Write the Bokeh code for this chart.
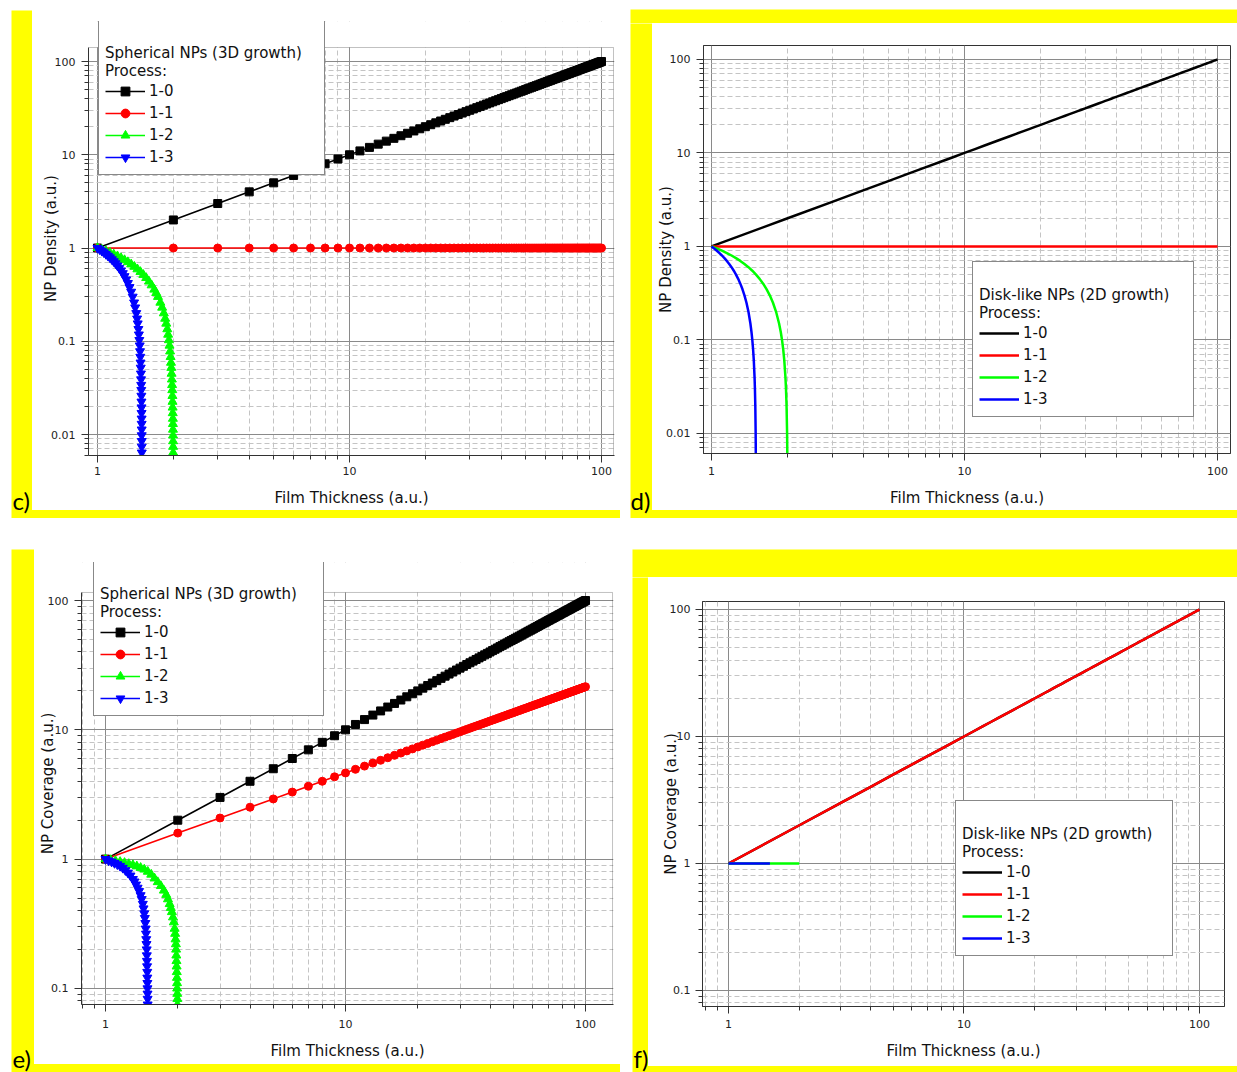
from bokeh.plotting import figure
from bokeh.layouts import row, column
from bokeh.models import (Spacer, Range1d, FixedTicker, CustomJSTickFormatter,
                          Legend, LegendItem, Label, BoxAnnotation)
from bokeh.embed import file_html
from bokeh.resources import INLINE

# ------------------------------------------------------------------ data
series_labels = ["1-0", "1-1", "1-2", "1-3"]
series_colors = ["#000000", "#FF0000", "#00FF00", "#0000FF"]

thickness = [1, 2, 3, 4, 5, 6, 7, 8, 9, 10,
             11, 12, 13, 14, 15, 16, 17, 18, 19, 20,
             21, 22, 23, 24, 25, 26, 27, 28, 29, 30,
             31, 32, 33, 34, 35, 36, 37, 38, 39, 40,
             41, 42, 43, 44, 45, 46, 47, 48, 49, 50,
             51, 52, 53, 54, 55, 56, 57, 58, 59, 60,
             61, 62, 63, 64, 65, 66, 67, 68, 69, 70,
             71, 72, 73, 74, 75, 76, 77, 78, 79, 80,
             81, 82, 83, 84, 85, 86, 87, 88, 89, 90,
             91, 92, 93, 94, 95, 96, 97, 98, 99, 100]

# process 1-0 : density / coverage grows linearly with thickness
value_10 = [1, 2, 3, 4, 5, 6, 7, 8, 9, 10,
            11, 12, 13, 14, 15, 16, 17, 18, 19, 20,
            21, 22, 23, 24, 25, 26, 27, 28, 29, 30,
            31, 32, 33, 34, 35, 36, 37, 38, 39, 40,
            41, 42, 43, 44, 45, 46, 47, 48, 49, 50,
            51, 52, 53, 54, 55, 56, 57, 58, 59, 60,
            61, 62, 63, 64, 65, 66, 67, 68, 69, 70,
            71, 72, 73, 74, 75, 76, 77, 78, 79, 80,
            81, 82, 83, 84, 85, 86, 87, 88, 89, 90,
            91, 92, 93, 94, 95, 96, 97, 98, 99, 100]

# process 1-1 density : constant
density_11 = [1, 1, 1, 1, 1, 1, 1, 1, 1, 1,
              1, 1, 1, 1, 1, 1, 1, 1, 1, 1,
              1, 1, 1, 1, 1, 1, 1, 1, 1, 1,
              1, 1, 1, 1, 1, 1, 1, 1, 1, 1,
              1, 1, 1, 1, 1, 1, 1, 1, 1, 1,
              1, 1, 1, 1, 1, 1, 1, 1, 1, 1,
              1, 1, 1, 1, 1, 1, 1, 1, 1, 1,
              1, 1, 1, 1, 1, 1, 1, 1, 1, 1,
              1, 1, 1, 1, 1, 1, 1, 1, 1, 1,
              1, 1, 1, 1, 1, 1, 1, 1, 1, 1]

# process 1-1 coverage of spherical NPs (panel e)
coverage_sph_11 = [1.00, 1.59, 2.08, 2.52, 2.92, 3.30, 3.66, 4.00, 4.33, 4.64,
                   4.95, 5.24, 5.53, 5.81, 6.08, 6.35, 6.61, 6.87, 7.12, 7.37,
                   7.61, 7.85, 8.09, 8.32, 8.55, 8.78, 9.00, 9.22, 9.44, 9.65,
                   9.87, 10.08, 10.29, 10.50, 10.70, 10.90, 11.10, 11.30, 11.50, 11.70,
                   11.89, 12.08, 12.27, 12.46, 12.65, 12.84, 13.02, 13.21, 13.39, 13.57,
                   13.75, 13.93, 14.11, 14.29, 14.46, 14.64, 14.81, 14.98, 15.16, 15.33,
                   15.50, 15.67, 15.83, 16.00, 16.17, 16.33, 16.50, 16.66, 16.82, 16.99,
                   17.15, 17.31, 17.47, 17.63, 17.78, 17.94, 18.10, 18.26, 18.41, 18.57,
                   18.72, 18.87, 19.03, 19.18, 19.33, 19.48, 19.63, 19.78, 19.93, 20.08,
                   20.23, 20.38, 20.53, 20.67, 20.82, 20.97, 21.11, 21.26, 21.40, 21.54]

# panel c : spherical NPs density, process 1-2
sph_12_x = [1.00, 1.04, 1.08, 1.12, 1.16, 1.20, 1.24, 1.28, 1.32, 1.36,
            1.40, 1.44, 1.48, 1.52, 1.56, 1.60, 1.64, 1.68, 1.71, 1.738,
            1.776, 1.805, 1.833, 1.856, 1.874, 1.892, 1.907, 1.920, 1.931, 1.941,
            1.950, 1.957, 1.963, 1.968, 1.973, 1.977, 1.980, 1.983, 1.985, 1.987,
            1.989, 1.991, 1.992, 1.993, 1.994, 1.995, 1.9957, 1.9964, 1.9969, 1.9973]
sph_12_y = [1.000, 0.964, 0.928, 0.891, 0.855, 0.818, 0.781, 0.744, 0.707, 0.669,
            0.631, 0.593, 0.555, 0.516, 0.478, 0.438, 0.399, 0.359, 0.330, 0.300,
            0.260, 0.230, 0.200, 0.175, 0.155, 0.135, 0.118, 0.103, 0.090, 0.078,
            0.068, 0.059, 0.052, 0.045, 0.039, 0.034, 0.030, 0.026, 0.0225, 0.0195,
            0.017, 0.0148, 0.013, 0.0113, 0.0098, 0.0085, 0.0074, 0.0064, 0.0056, 0.0049]

# panel c : spherical NPs density, process 1-3
sph_13_x = [1.00, 1.02, 1.04, 1.06, 1.08, 1.10, 1.12, 1.14, 1.16, 1.18,
            1.20, 1.22, 1.24, 1.26, 1.28, 1.30, 1.32, 1.34, 1.36, 1.379,
            1.397, 1.411, 1.425, 1.436, 1.444, 1.453, 1.4595, 1.4655, 1.4706, 1.4751,
            1.4788, 1.4821, 1.4845, 1.4870, 1.4890, 1.4906, 1.4919, 1.4932, 1.4942, 1.4951,
            1.4958, 1.4965, 1.4970, 1.4974, 1.4978, 1.4982, 1.4985, 1.4987, 1.4989, 1.4991]
sph_13_y = [1.000, 0.966, 0.932, 0.897, 0.862, 0.827, 0.792, 0.756, 0.720, 0.684,
            0.648, 0.611, 0.574, 0.536, 0.498, 0.459, 0.420, 0.380, 0.339, 0.300,
            0.260, 0.230, 0.200, 0.175, 0.155, 0.135, 0.118, 0.103, 0.090, 0.078,
            0.068, 0.059, 0.052, 0.045, 0.039, 0.034, 0.030, 0.026, 0.0225, 0.0195,
            0.017, 0.0148, 0.013, 0.0113, 0.0098, 0.0085, 0.0074, 0.0064, 0.0056, 0.0049]

# panel d : disk-like NPs density, process 1-2
disk_12_x = [1.00, 1.05, 1.10, 1.15, 1.20, 1.25, 1.30, 1.35, 1.40, 1.45,
             1.50, 1.55, 1.60, 1.65, 1.70, 1.75, 1.80, 1.85, 1.88, 1.90,
             1.92, 1.94, 1.96, 1.97, 1.98, 1.99, 1.995]
disk_12_y = [1.00, 0.95, 0.90, 0.85, 0.80, 0.75, 0.70, 0.65, 0.60, 0.55,
             0.50, 0.45, 0.40, 0.35, 0.30, 0.25, 0.20, 0.15, 0.12, 0.10,
             0.08, 0.06, 0.04, 0.03, 0.02, 0.01, 0.005]

# panel d : disk-like NPs density, process 1-3
disk_13_x = [1.00, 1.025, 1.05, 1.075, 1.10, 1.125, 1.15, 1.175, 1.20, 1.225,
             1.25, 1.275, 1.30, 1.325, 1.35, 1.375, 1.40, 1.425, 1.44, 1.45,
             1.46, 1.47, 1.48, 1.485, 1.49, 1.495, 1.4975]
disk_13_y = [1.00, 0.95, 0.90, 0.85, 0.80, 0.75, 0.70, 0.65, 0.60, 0.55,
             0.50, 0.45, 0.40, 0.35, 0.30, 0.25, 0.20, 0.15, 0.12, 0.10,
             0.08, 0.06, 0.04, 0.03, 0.02, 0.01, 0.005]

# panel e : spherical NPs coverage, process 1-2
cov_12_x = [1.00, 1.05, 1.10, 1.15, 1.20, 1.25, 1.30, 1.35, 1.40, 1.45,
            1.50, 1.55, 1.60, 1.65, 1.70, 1.75, 1.79, 1.82, 1.85, 1.87,
            1.89, 1.91, 1.925, 1.94, 1.95, 1.958, 1.964, 1.968, 1.972, 1.975,
            1.978, 1.981, 1.984, 1.986, 1.988, 1.990, 1.992, 1.994, 1.996]
cov_12_y = [1.00, 0.985, 0.97, 0.953, 0.936, 0.918, 0.90, 0.88, 0.857, 0.832,
            0.80, 0.76, 0.71, 0.665, 0.62, 0.572, 0.53, 0.49, 0.45, 0.42,
            0.39, 0.355, 0.325, 0.29, 0.265, 0.24, 0.22, 0.20, 0.18, 0.163,
            0.148, 0.134, 0.121, 0.11, 0.10, 0.091, 0.083, 0.075, 0.068]

# panel e : spherical NPs coverage, process 1-3
cov_13_x = [1.00, 1.03, 1.06, 1.09, 1.12, 1.15, 1.18, 1.21, 1.24, 1.27,
            1.30, 1.32, 1.34, 1.36, 1.38, 1.40, 1.415, 1.43, 1.44, 1.45,
            1.458, 1.465, 1.47, 1.474, 1.478, 1.481, 1.484, 1.486, 1.488, 1.490,
            1.492, 1.493, 1.494, 1.495, 1.496, 1.497, 1.498, 1.499]
cov_13_y = [1.00, 0.975, 0.955, 0.932, 0.91, 0.885, 0.855, 0.82, 0.785, 0.745,
            0.70, 0.67, 0.635, 0.60, 0.565, 0.525, 0.49, 0.45, 0.415, 0.38,
            0.35, 0.32, 0.29, 0.265, 0.24, 0.22, 0.20, 0.18, 0.163, 0.148,
            0.134, 0.121, 0.11, 0.10, 0.091, 0.083, 0.075, 0.068]

# panel f : disk-like NPs coverage, processes 1-2 and 1-3 (constant)
flat_12_x = [1.0, 1.5, 2.0]
flat_12_y = [1.0, 1.0, 1.0]
flat_13_x = [1.0, 1.25, 1.5]
flat_13_y = [1.0, 1.0, 1.0]

x_tick_values = [1, 10, 100]
x_tick_labels = ["1", "10", "100"]
y_tick_values_density = [0.01, 0.1, 1, 10, 100]
y_tick_labels_density = ["0.01", "0.1", "1", "10", "100"]
y_tick_values_coverage = [0.1, 1, 10, 100]
y_tick_labels_coverage = ["0.1", "1", "10", "100"]

x_title = "Film Thickness (a.u.)"
density_title = "NP Density (a.u.)"
coverage_title = "NP Coverage (a.u.)"
sph_legend_title = ["Spherical NPs (3D growth)", "Process:"]
disk_legend_title = ["Disk-like NPs (2D growth)", "Process:"]

# ------------------------------------------------------------------ style
FONT = "DejaVu Sans"
YELLOW = "#FFFF00"
minor_x = [m * 10.0 ** k for k in (-1, 0, 1, 2) for m in range(2, 10)]


def minor_y(top):
    return [m * 10.0 ** k for k in (-3, -2, -1, 0, 1, 2) for m in range(2, 10)
            if m * 10.0 ** k < top]


def formatter(vals, labs):
    return CustomJSTickFormatter(
        args=dict(vals=vals, labs=labs),
        code="""
        for (let i = 0; i < vals.length; i++) {
            if (Math.abs(Math.log10(vals[i]) - Math.log10(tick)) < 1e-6) return labs[i];
        }
        return '';
        """)


def panel(w, h, xr, yr, borders, ylab, yvals, ylabs, std, vis=None):
    bl, br, bt, bb = borders
    p = figure(width=w, height=h, x_axis_type="log", y_axis_type="log",
               x_range=Range1d(*xr), y_range=Range1d(*yr), title=None,
               toolbar_location=None, output_backend="svg",
               min_border_left=bl, min_border_right=br,
               min_border_top=bt, min_border_bottom=bb,
               background_fill_color="white", border_fill_color="white",
               outline_line_color="#333333" if vis is None else None,
               outline_line_width=1)
    ytop = yr[1] if vis is None else vis[1]
    xt = FixedTicker(ticks=x_tick_values, minor_ticks=minor_x)
    yt = FixedTicker(ticks=yvals, minor_ticks=minor_y(ytop))
    p.xaxis.ticker = xt
    p.yaxis.ticker = yt
    p.xgrid.ticker = xt
    p.ygrid.ticker = yt
    p.xaxis.formatter = formatter(x_tick_values, x_tick_labels)
    p.yaxis.formatter = formatter(yvals, ylabs)
    for g in (p.xgrid, p.ygrid):
        g.grid_line_color = "#8a8a8a"
        g.grid_line_width = 1
        g.minor_grid_line_color = "#c4c4c4"
        g.minor_grid_line_dash = "5 3"
        g.minor_grid_line_width = 1
    for ax in (p.xaxis, p.yaxis):
        ax.axis_line_color = "#333333"
        ax.major_tick_line_color = "#333333"
        ax.minor_tick_line_color = "#333333"
        ax.major_tick_out = 7
        ax.major_tick_in = 0
        ax.minor_tick_out = 4
        ax.minor_tick_in = 0
        ax.major_label_text_font = FONT
        ax.major_label_text_font_size = "11px"
        ax.major_label_text_color = "#222222"
        ax.axis_label_text_font = FONT
        ax.axis_label_text_font_size = "15px"
        ax.axis_label_text_font_style = "normal"
        ax.axis_label_text_color = "#111111"
    p.xaxis.axis_label = x_title
    p.yaxis.axis_label = ylab
    p.yaxis.major_label_standoff = std[0]
    p.yaxis.axis_label_standoff = std[1]
    p.xaxis.major_label_standoff = std[2]
    p.xaxis.axis_label_standoff = std[3]
    if vis is not None:
        x_right_vis, y_top_vis = vis
        p.yaxis.bounds = (yr[0], y_top_vis)
        p.add_layout(BoxAnnotation(bottom=y_top_vis, fill_color="white", fill_alpha=1.0,
                                   line_alpha=0.0))
        p.add_layout(BoxAnnotation(left=xr[0], right=x_right_vis, bottom=yr[0], top=y_top_vis,
                                   fill_alpha=0.0, line_color="#333333", line_width=1))
    return p


def add_legend(p, title_lines, entries, loc, label_width):
    items = [LegendItem(label=lab, renderers=rs) for lab, rs in entries]
    leg = Legend(items=items, location=loc, title="\n".join([" "] + title_lines),
                 title_text_font=FONT, title_text_font_size="15px",
                 title_text_font_style="normal", title_text_color="#111111",
                 title_standoff=0,
                 label_text_font=FONT, label_text_font_size="15px",
                 label_text_color="#111111",
                 glyph_width=40, glyph_height=22, label_height=22, label_width=label_width,
                 label_standoff=4, spacing=0, padding=6, margin=0,
                 border_line_color="#111111", border_line_width=1,
                 background_fill_color="white", background_fill_alpha=1.0)
    p.add_layout(leg)


def marker_series(p, x, y, color, marker, size):
    ln = p.line(x, y, line_color=color, line_width=1.6)
    sc = p.scatter(x, y, marker=marker, size=size, fill_color=color, line_color=color)
    return [ln, sc]


def strip(w, h, text=None, tx=0, ty=0):
    s = figure(width=w, height=h, toolbar_location=None, output_backend="svg", title=None,
               x_axis_location=None, y_axis_location=None, min_border=0,
               min_border_left=0, min_border_right=0, min_border_top=0, min_border_bottom=0,
               background_fill_color=YELLOW, border_fill_color=YELLOW,
               outline_line_color=None, x_range=Range1d(0, 1), y_range=Range1d(0, 1))
    s.grid.visible = False
    if text:
        s.add_layout(Label(x=tx, y=ty, x_units="screen", y_units="screen", text=text,
                           text_font="Lato", text_font_size="24px", text_color="black"))
    return s


def band(w, h):
    return Spacer(width=w, height=h, styles={"background-color": YELLOW})


markers = ["square", "circle", "triangle", "inverted_triangle"]
msizes = [8, 8, 9, 9]

# ------------------------------------------------------------------ panel c
pc = panel(588, 500, (0.921, 112.6), (0.00596, 268.5), (56, 6, 11, 55),
           density_title, y_tick_values_density, y_tick_labels_density, (6, -12, 4, 11),
           vis=(111.6, 141.3))
c_data = [(thickness, value_10), (thickness, density_11), (sph_12_x, sph_12_y), (sph_13_x, sph_13_y)]
c_entries = []
for (x, y), lab, col, mk, ms in zip(c_data, series_labels, series_colors, markers, msizes):
    c_entries.append((lab, marker_series(pc, x, y, col, mk, ms)))
add_legend(pc, sph_legend_title, c_entries, (10, 280), 169)

# ------------------------------------------------------------------ panel d
pd_ = panel(585, 487, (0.930, 112.5), (0.0061, 141.0), (51, 7, 22, 57),
            density_title, y_tick_values_density, y_tick_labels_density, (6, -12, 6, 11))
d_data = [(thickness, value_10), (thickness, density_11), (disk_12_x, disk_12_y), (disk_13_x, disk_13_y)]
d_entries = []
for (x, y), lab, col in zip(d_data, series_labels, series_colors):
    d_entries.append((lab, [pd_.line(x, y, line_color=col, line_width=2.5)]))
add_legend(pd_, disk_legend_title, d_entries, (269, 36), 164)

# ------------------------------------------------------------------ panel e
pe = panel(586, 515, (0.794, 130.8), (0.0751, 196.8), (47, 7, 13, 60),
           coverage_title, y_tick_values_coverage, y_tick_labels_coverage, (6, -12, 8, 11),
           vis=(129.6, 115.4))
e_data = [(thickness, value_10), (thickness, coverage_sph_11), (cov_12_x, cov_12_y), (cov_13_x, cov_13_y)]
e_entries = []
for (x, y), lab, col, mk, ms in zip(e_data, series_labels, series_colors, markers, msizes):
    e_entries.append((lab, marker_series(pe, x, y, col, mk, ms)))
add_legend(pe, sph_legend_title, e_entries, (12, 288), 173)

# ------------------------------------------------------------------ panel f
pf = panel(589, 489, (0.776, 127.7), (0.0748, 115.6), (54, 13, 24, 60),
           coverage_title, y_tick_values_coverage, y_tick_labels_coverage, (5, -13, 6, 11))
f_data = [(thickness, value_10), (thickness, value_10), (flat_12_x, flat_12_y), (flat_13_x, flat_13_y)]
f_entries = []
for (x, y), lab, col in zip(f_data, series_labels, series_colors):
    f_entries.append((lab, [pf.line(x, y, line_color=col, line_width=2.5)]))
add_legend(pf, disk_legend_title, f_entries, (253, 50), 160)

# ------------------------------------------------------------------ layout
group_c = column(Spacer(width=620, height=10),
                 row(Spacer(width=11, height=508), strip(21, 508, "c)", 1, 4),
                     column(pc, band(588, 8))),
                 Spacer(width=620, height=2))
group_d = column(Spacer(width=607, height=9),
                 strip(607, 14),
                 row(strip(22, 495, "d)", 0, 4), column(pd_, band(585, 8))),
                 Spacer(width=607, height=2))
top = row(group_c, Spacer(width=10, height=520), group_d)

group_e = column(Spacer(width=620, height=29),
                 row(Spacer(width=11, height=523), strip(23, 523, "e)", 1, 0),
                     column(pe, band(586, 8))))
group_f = column(Spacer(width=605, height=29),
                 strip(605, 28),
                 row(strip(16, 495, "f)", 1, 0), column(pf, band(589, 6))))
bottom = row(group_e, Spacer(width=12, height=552), group_f)

layout = column(top, bottom)

open("out.html", "w").write(file_html(layout, INLINE))
